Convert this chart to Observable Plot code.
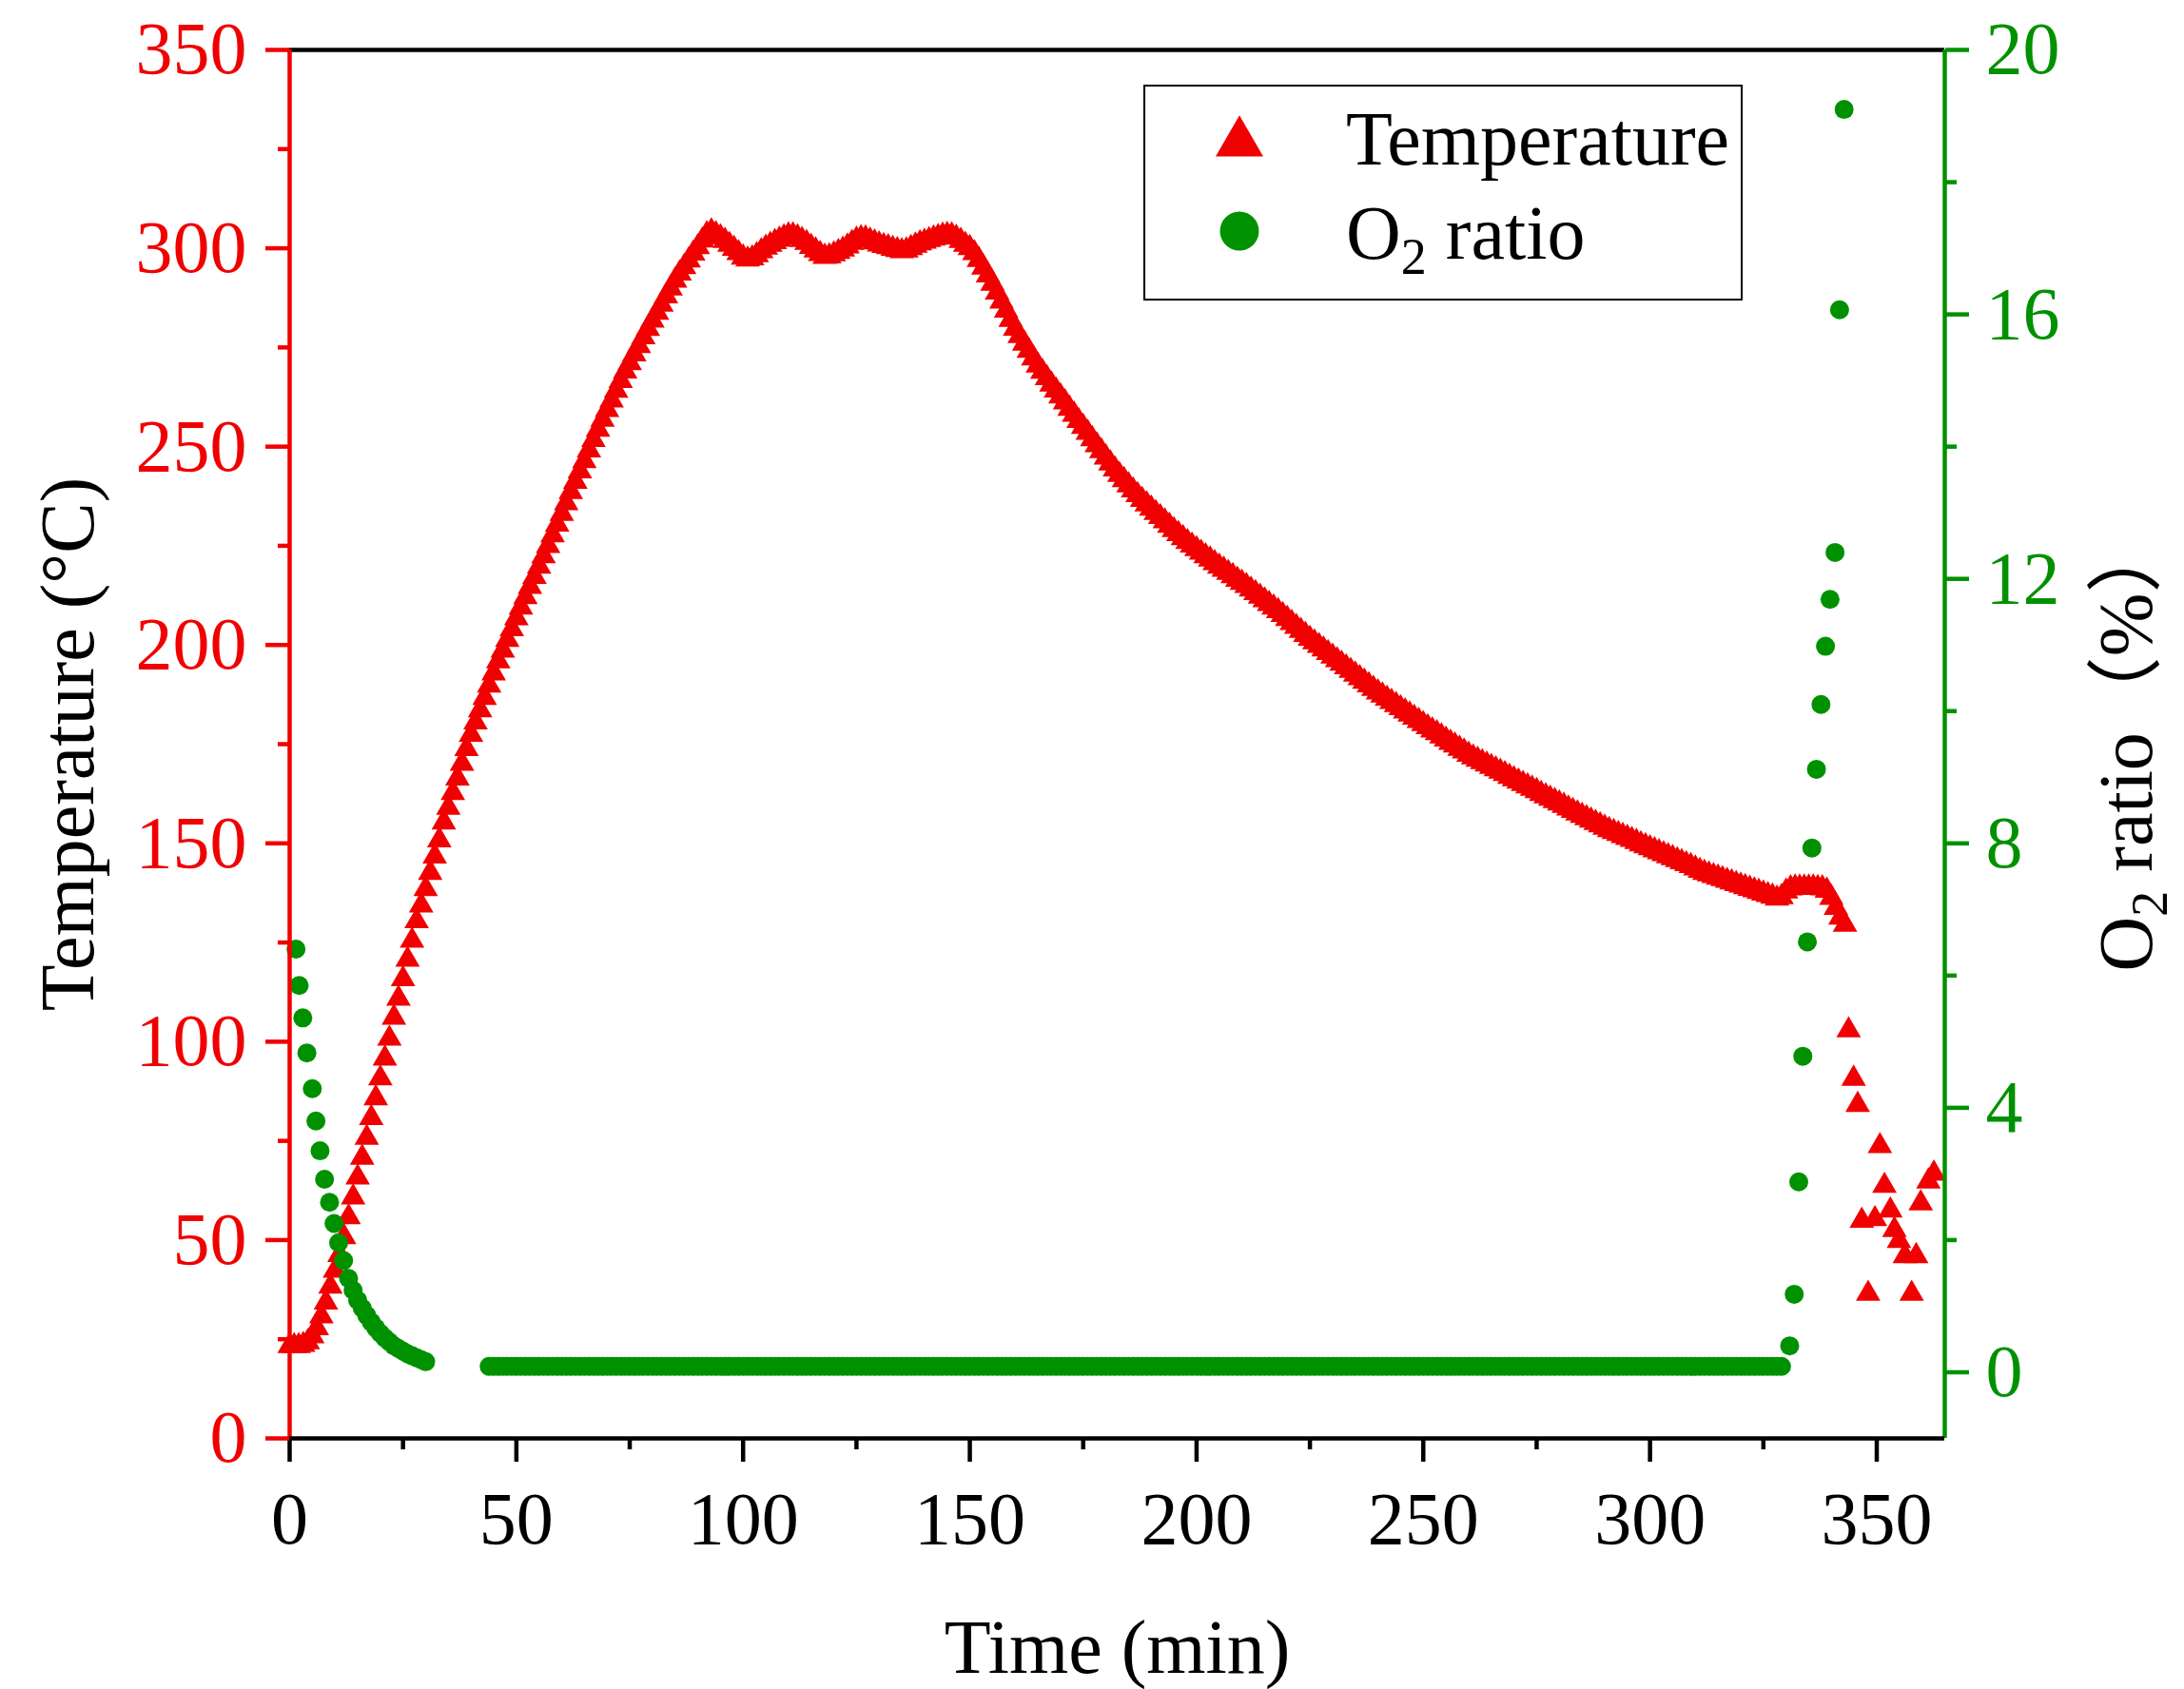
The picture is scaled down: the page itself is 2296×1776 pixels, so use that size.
<!DOCTYPE html>
<html>
<head>
<meta charset="utf-8">
<script src="https://cdn.jsdelivr.net/npm/d3@7"></script>
<script src="https://cdn.jsdelivr.net/npm/@observablehq/plot@0.6"></script>
<style>
  body { margin: 0; background: #fff; }
  svg { display: block; }
</style>
</head>
<body>
<div id="plot"></div>
<script>
const RED = "#f00000";
const GREEN = "#009100";
const FONT = "'Liberation Serif', 'Times New Roman', 'Noto Sans CJK SC', serif";

// Temperature (°C), one reading per minute starting at t = 0
const tempValues = [
  24, 24, 24, 24.3, 25, 26.5, 28.5, 31.5, 35, 39,
  43, 47, 51.5, 56.5, 61.5, 66.5, 71.5, 76.5, 81.5, 86.5,
  91.5, 96.5, 101.5, 106.8, 111.6, 116.5, 121.4, 126.2, 131.1, 135.1,
  139.2, 143.3, 147.4, 151.5, 156.0, 159.7, 163.4, 167.1, 170.8, 174.5,
  178.1, 181.2, 184.3, 187.4, 190.5, 193.6, 196.6, 199.3, 202.0, 204.7,
  207.5, 210.2, 212.8, 215.4, 217.9, 220.5, 223.1, 225.7, 228.4, 231.1,
  233.8, 236.5, 239.3, 241.9, 244.5, 247.1, 249.8, 252.4, 255.0, 257.5,
  260.0, 262.4, 264.8, 267.3, 269.7, 271.8, 274.0, 276.1, 278.3, 280.4,
  282.5, 284.5, 286.5, 288.6, 290.6, 292.6, 294.4, 296.0, 297.7, 299.4,
  301.0, 302.7, 304.3, 305.0, 304.3, 303.5, 302.6, 301.6, 300.6, 299.5,
  298.4, 297.9, 298.2, 299.0, 300.0, 300.9, 301.6, 302.3, 302.9, 303.5,
  304.0, 304.0, 303.5, 302.8, 302.1, 301.1, 300.2, 299.3, 298.6, 298.7,
  299.2, 299.8, 300.4, 301.2, 302.1, 302.9, 303.3, 303.2, 302.7, 302.2,
  301.7, 301.3, 301.0, 300.6, 300.3, 300.0, 300.2, 300.8, 301.4, 302.0,
  302.4, 302.8, 303.2, 303.6, 303.9, 304.1, 304.0, 303.4, 302.6, 301.6,
  300.8, 299.5, 297.8, 295.9, 293.9, 291.8, 289.6, 287.3, 285.0, 282.7,
  280.5, 278.6, 276.7, 274.9, 273.0, 271.2, 269.6, 268.0, 266.4, 264.9,
  263.4, 261.9, 260.3, 258.8, 257.2, 255.7, 254.2, 252.6, 251.1, 249.6,
  248.0, 246.5, 245.0, 243.6, 242.3, 241.0, 239.7, 238.5, 237.3, 236.2,
  235.1, 234.0, 233.0, 231.9, 230.8, 229.7, 228.7, 227.7, 226.7, 225.8,
  224.9, 224.0, 223.1, 222.3, 221.4, 220.5, 219.7, 218.9, 218.1, 217.2,
  216.4, 215.6, 214.7, 213.8, 212.9, 212.0, 211.1, 210.2, 209.3, 208.3,
  207.3, 206.3, 205.3, 204.3, 203.3, 202.3, 201.4, 200.5, 199.6, 198.7,
  197.8, 196.9, 196.0, 195.1, 194.2, 193.3, 192.4, 191.5, 190.6, 189.7,
  188.8, 188.0, 187.2, 186.4, 185.6, 184.8, 184.0, 183.2, 182.4, 181.6,
  180.8, 180.0, 179.2, 178.5, 177.7, 176.9, 176.1, 175.4, 174.6, 173.9,
  173.1, 172.4, 171.8, 171.2, 170.6, 170.0, 169.4, 168.8, 168.2, 167.5,
  166.9, 166.3, 165.7, 165.1, 164.5, 163.9, 163.2, 162.6, 162.0, 161.4,
  160.8, 160.2, 159.5, 158.9, 158.3, 157.7, 157.1, 156.5, 155.9, 155.3,
  154.7, 154.1, 153.6, 153.1, 152.6, 152.1, 151.6, 151.1, 150.5, 150.0,
  149.5, 149.0, 148.5, 148.0, 147.5, 147.0, 146.5, 146.0, 145.5, 145.0,
  144.4, 143.8, 143.3, 142.9, 142.5, 142.1, 141.7, 141.3, 140.9, 140.5,
  140.1, 139.7, 139.3, 138.9, 138.5, 138.1, 137.7, 137.3, 136.8, 137.2,
  138.6, 139.4, 139.6, 139.6, 139.6, 139.6, 139.6, 139.5, 139.4, 138.8,
  137.0, 134.5, 132.0, 130.2
];

// scattered readings at the end of the run
const tailTimes = [343.8, 344.9, 345.8, 346.7, 348.1, 349.6, 350.7, 351.7, 353.0, 353.9, 354.9, 356.2, 357.7, 358.7, 359.7, 361.4, 362.6];
const tailTemps = [103.6, 91.4, 84.8, 55.6, 37.2, 56.0, 74.4, 64.4, 58.2, 53.3, 50.5, 46.7, 37.2, 46.7, 60.0, 65.5, 67.5];

// O2 ratio (%)
const o2StartTimes = [1.4, 2.1, 2.9, 3.8, 5.0, 5.8, 6.7, 7.7, 8.8, 9.8, 10.8, 11.9, 13, 14, 15, 16, 17, 18, 19, 20, 21, 22, 23, 24, 25, 26, 27, 28, 29, 30];
const o2StartValues = [6.40, 5.85, 5.36, 4.83, 4.29, 3.80, 3.35, 2.92, 2.57, 2.25, 1.96, 1.69, 1.42, 1.24, 1.09, 0.97, 0.86, 0.76, 0.67, 0.59, 0.52, 0.46, 0.40, 0.36, 0.32, 0.28, 0.25, 0.22, 0.19, 0.16];

// one reading per minute from t = 44 to t = 329
const o2FlatStart = 44;
const o2FlatValues = [
  0.09, 0.09, 0.09, 0.09, 0.09, 0.09, 0.09, 0.09, 0.09, 0.09, 0.09, 0.09, 0.09, 0.09, 0.09, 0.09, 0.09, 0.09, 0.09, 0.09, 0.09, 0.09,
  0.09, 0.09, 0.09, 0.09, 0.09, 0.09, 0.09, 0.09, 0.09, 0.09, 0.09, 0.09, 0.09, 0.09, 0.09, 0.09, 0.09, 0.09, 0.09, 0.09, 0.09, 0.09,
  0.09, 0.09, 0.09, 0.09, 0.09, 0.09, 0.09, 0.09, 0.09, 0.09, 0.09, 0.09, 0.09, 0.09, 0.09, 0.09, 0.09, 0.09, 0.09, 0.09, 0.09, 0.09,
  0.09, 0.09, 0.09, 0.09, 0.09, 0.09, 0.09, 0.09, 0.09, 0.09, 0.09, 0.09, 0.09, 0.09, 0.09, 0.09, 0.09, 0.09, 0.09, 0.09, 0.09, 0.09,
  0.09, 0.09, 0.09, 0.09, 0.09, 0.09, 0.09, 0.09, 0.09, 0.09, 0.09, 0.09, 0.09, 0.09, 0.09, 0.09, 0.09, 0.09, 0.09, 0.09, 0.09, 0.09,
  0.09, 0.09, 0.09, 0.09, 0.09, 0.09, 0.09, 0.09, 0.09, 0.09, 0.09, 0.09, 0.09, 0.09, 0.09, 0.09, 0.09, 0.09, 0.09, 0.09, 0.09, 0.09,
  0.09, 0.09, 0.09, 0.09, 0.09, 0.09, 0.09, 0.09, 0.09, 0.09, 0.09, 0.09, 0.09, 0.09, 0.09, 0.09, 0.09, 0.09, 0.09, 0.09, 0.09, 0.09,
  0.09, 0.09, 0.09, 0.09, 0.09, 0.09, 0.09, 0.09, 0.09, 0.09, 0.09, 0.09, 0.09, 0.09, 0.09, 0.09, 0.09, 0.09, 0.09, 0.09, 0.09, 0.09,
  0.09, 0.09, 0.09, 0.09, 0.09, 0.09, 0.09, 0.09, 0.09, 0.09, 0.09, 0.09, 0.09, 0.09, 0.09, 0.09, 0.09, 0.09, 0.09, 0.09, 0.09, 0.09,
  0.09, 0.09, 0.09, 0.09, 0.09, 0.09, 0.09, 0.09, 0.09, 0.09, 0.09, 0.09, 0.09, 0.09, 0.09, 0.09, 0.09, 0.09, 0.09, 0.09, 0.09, 0.09,
  0.09, 0.09, 0.09, 0.09, 0.09, 0.09, 0.09, 0.09, 0.09, 0.09, 0.09, 0.09, 0.09, 0.09, 0.09, 0.09, 0.09, 0.09, 0.09, 0.09, 0.09, 0.09,
  0.09, 0.09, 0.09, 0.09, 0.09, 0.09, 0.09, 0.09, 0.09, 0.09, 0.09, 0.09, 0.09, 0.09, 0.09, 0.09, 0.09, 0.09, 0.09, 0.09, 0.09, 0.09,
  0.09, 0.09, 0.09, 0.09, 0.09, 0.09, 0.09, 0.09, 0.09, 0.09, 0.09, 0.09, 0.09, 0.09, 0.09, 0.09, 0.09, 0.09, 0.09, 0.09, 0.09, 0.09
];

const o2EndTimes = [330.8, 331.8, 332.8, 333.7, 334.7, 335.7, 336.7, 337.7, 338.7, 339.7, 340.8, 341.8, 342.8];
const o2EndValues = [0.40, 1.18, 2.88, 4.78, 6.51, 7.93, 9.12, 10.10, 10.98, 11.69, 12.40, 16.07, 19.10];

// ticks
const timeTicks = [0, 50, 100, 150, 200, 250, 300, 350];
const timeMinor = [25, 75, 125, 175, 225, 275, 325];
const tempTicks = [0, 50, 100, 150, 200, 250, 300, 350];
const tempMinor = [25, 75, 125, 175, 225, 275, 325];
const o2Ticks = [0, 4, 8, 12, 16, 20];
const o2Minor = [2, 6, 10, 14, 18];

// right axis runs from -1 to 20 % over the same height as 0..350 °C
const toY = v => (v + 1) * 350 / 21;
const fromY = y => Math.round(y * 21 / 350 - 1);

const tempData = tempValues.map((T, i) => ({t: i, T}))
  .concat(tailTimes.map((t, i) => ({t, T: tailTemps[i]})));

const o2Data = [
  ...o2StartTimes.map((t, i) => ({t, v: o2StartValues[i]})),
  ...o2FlatValues.map((v, i) => ({t: o2FlatStart + i, v})),
  ...o2EndTimes.map((t, i) => ({t, v: o2EndValues[i]}))
];

const plot = Plot.plot({
  width: 2296,
  height: 1776,
  marginLeft: 304,
  marginRight: 252,
  marginTop: 52,
  marginBottom: 264,
  style: {background: "#fff", fontFamily: FONT, overflow: "visible"},
  x: {domain: [0, 365], axis: null, label: null},
  y: {domain: [0, 350], axis: null, label: null},
  marks: [
    Plot.dot(tempData, {x: "t", y: "T", symbol: "triangle", r: 9.6, fill: RED, dy: 3}),
    Plot.dot(o2Data, {x: "t", y: d => toY(d.v), r: 10, fill: GREEN}),

    // frame
    Plot.ruleY([350], {stroke: "#000", strokeWidth: 4.5}),
    Plot.ruleX([0], {stroke: RED, strokeWidth: 4.5}),
    Plot.ruleX([365], {stroke: GREEN, strokeWidth: 4.5}),
    Plot.ruleY([0], {stroke: "#000", strokeWidth: 4.5}),

    // bottom axis
    Plot.axisX(timeTicks, {anchor: "bottom", tickSize: 25, tickPadding: 30, strokeWidth: 4.5, color: "#000", fontSize: 78, label: null}),
    Plot.axisX(timeMinor, {anchor: "bottom", tickSize: 12, tickFormat: () => "", strokeWidth: 4.5, color: "#000", label: null}),

    // left axis
    Plot.axisY(tempTicks, {anchor: "left", tickSize: 25, tickPadding: 20, strokeWidth: 4.5, color: RED, fontSize: 78, label: null}),
    Plot.axisY(tempMinor, {anchor: "left", tickSize: 12, tickFormat: () => "", strokeWidth: 4.5, color: RED, label: null}),

    // right axis (O2)
    Plot.axisY(o2Ticks.map(toY), {anchor: "right", tickSize: 25, tickPadding: 18, strokeWidth: 4.5, color: GREEN, fontSize: 78, tickFormat: fromY, label: null}),
    Plot.axisY(o2Minor.map(toY), {anchor: "right", tickSize: 12, tickFormat: () => "", strokeWidth: 4.5, color: GREEN, label: null}),

    // titles
    Plot.text(["Time (min)"], {frameAnchor: "bottom", dy: 190, lineAnchor: "top", textAnchor: "middle", fontSize: 80, fill: "#000"}),
    Plot.text(["Temperature (°C)"], {frameAnchor: "left", dx: -232, rotate: -90, lineAnchor: "middle", textAnchor: "middle", fontSize: 80, fill: "#000"}),
    Plot.text(["O2 ratio（%）"], {frameAnchor: "right", dx: 192, rotate: -90, lineAnchor: "middle", textAnchor: "middle", fontSize: 80, fill: "#000"})
  ]
});

const svg = d3.select(plot);

// subscript in the right axis title
svg.selectAll("text").filter(function() { return this.textContent === "O2 ratio（%）"; })
  .each(function() {
    const t = d3.select(this);
    t.text(null);
    t.append("tspan").text("O");
    t.append("tspan").attr("font-size", 54).attr("dy", 16).text("2");
    t.append("tspan").attr("dy", -16).text(" ratio（%）");
  });

// legend
const lg = svg.append("g")
  .attr("font-family", FONT).attr("font-size", 80)
  .attr("fill", "#000").attr("text-anchor", "start");
lg.append("rect")
  .attr("x", 1203).attr("y", 90).attr("width", 628).attr("height", 225)
  .attr("fill", "#fff").attr("stroke", "#000").attr("stroke-width", 2);
lg.append("path")
  .attr("d", d3.symbol(d3.symbolTriangle, 1080)())
  .attr("transform", "translate(1303,150)")
  .attr("fill", RED);
lg.append("circle").attr("cx", 1303).attr("cy", 243).attr("r", 20.5).attr("fill", GREEN);
lg.append("text").attr("x", 1415).attr("y", 173).text("Temperature");
const o2Label = lg.append("text").attr("x", 1415).attr("y", 272);
o2Label.append("tspan").text("O");
o2Label.append("tspan").attr("font-size", 54).attr("dy", 16).text("2");
o2Label.append("tspan").attr("dy", -16).text(" ratio");

document.getElementById("plot").appendChild(plot);
</script>
</body>
</html>
